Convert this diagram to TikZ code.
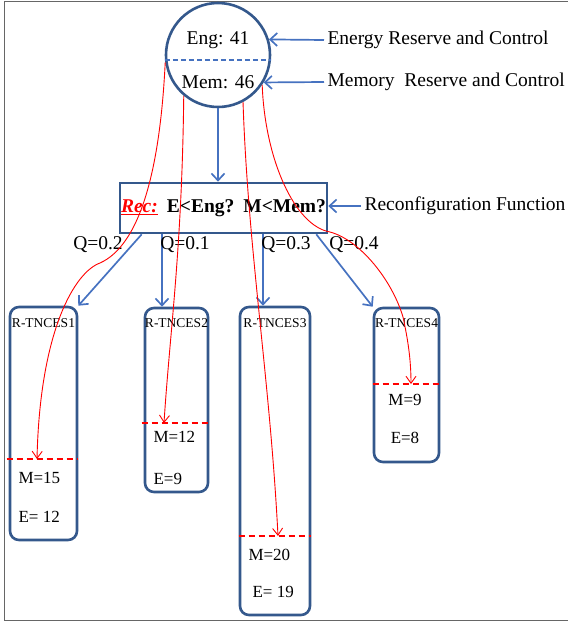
\documentclass[tikz,border=0pt]{standalone}
\usepackage{fontspec}
\setmainfont{Liberation Serif}
\usetikzlibrary{arrows.meta}
\definecolor{shapeblue}{RGB}{52,88,140}
\definecolor{arrowblue}{RGB}{70,114,192}

\begin{document}
\begin{tikzpicture}[x=1pt,y=-1pt]

%
% Styles
%
\tikzstyle{bigfont} = [font=\fontsize{19.5}{22}\selectfont]
\tikzstyle{valfont} = [font=\fontsize{17}{20}\selectfont]
\tikzstyle{tagfont} = [font=\fontsize{13.5}{15}\selectfont]
\tikzstyle{reserve} = [circle,draw=shapeblue,line width=2.6pt,minimum size=104pt,inner sep=0pt]
\tikzstyle{recbox} = [rectangle,draw=shapeblue,line width=2.6pt,minimum width=207pt,minimum height=50pt,inner sep=0pt]
\tikzstyle{tnces} = [rectangle,rounded corners=9pt,draw=shapeblue,line width=2.6pt,inner sep=0pt]
\tikzstyle{arr} = [draw=arrowblue,line width=1.7pt,-{Straight Barb[length=7pt,width=13pt]}]
\tikzstyle{redarr} = [draw=red,line width=0.9pt,-{Straight Barb[length=7pt,width=10pt]}]
\tikzstyle{reddash} = [draw=red,line width=2pt,dash pattern=on 6pt off 4pt]

\useasboundingbox (0,0) rectangle (568,625);
\draw[gray!80!black,line width=1pt] (568,1) -- (4,1) -- (4,620) -- (568,620);

% reserve circle
\node[reserve] (mem) at (218,55) {};
\node[bigfont] (eng) at (218,40) {Eng: 41};
\node[bigfont] (memval) at (218,82) {Mem: 46};
\draw[draw=arrowblue,line width=1.7pt,dash pattern=on 5pt off 3pt] (mem.185) -- (mem.-5);

\node[bigfont,anchor=west] (engnote) at (324,40) {Energy Reserve and Control};
\node[bigfont,anchor=west] (memnote) at (324,82) {Memory\ \ Reserve and Control};
\draw[arr] (engnote.west) -- (mem.17);
\draw[arr] (memnote.west) -- (mem.-31);

% reconfiguration function
\node[recbox,bigfont] (rec) at (223.5,208) {\textcolor{red}{\underline{\textbf{\textit{Rec:}}}}\hspace{9pt}\textbf{E<Eng?}\hspace{9pt}\textbf{M<Mem?}};
\draw[arr] (mem.south) -- (mem.south |- rec.north);
\node[bigfont,anchor=west] (recnote) at (361,206) {Reconfiguration Function};
\draw[arr] (recnote.west) -- (rec.east |- recnote.west);

% R-TNCES boxes
\node[tnces,minimum width=67pt,minimum height=233pt] (b1) at (43.5,423.5) {};
\node[tnces,minimum width=63pt,minimum height=184pt] (b2) at (176.5,400) {};
\node[tnces,minimum width=70pt,minimum height=308pt] (b3) at (275,461) {};
\node[tnces,minimum width=65pt,minimum height=154pt] (b4) at (406.5,385) {};

\node[tagfont] (t1) at (43.5,323) {R-TNCES1};
\node[tagfont] (t2) at (176.5,323) {R-TNCES2};
\node[tagfont] (t3) at (275,323) {R-TNCES3};
\node[tagfont] (t4) at (406.5,323) {R-TNCES4};

\coordinate (d1) at (37,459);
\coordinate (d2) at (164,423);
\coordinate (d3) at (278,536);
\coordinate (d4) at (411,384);
\draw[reddash] ([xshift=-2pt]b1.west |- d1) -- (b1.east |- d1);
\draw[reddash] ([xshift=-2pt]b2.west |- d2) -- (b2.east |- d2);
\draw[reddash] (b3.west |- d3) -- (b3.east |- d3);
\draw[reddash] (b4.west |- d4) -- (b4.east |- d4);

\node[valfont,anchor=west] (m1) at (15,478) {M=15};
\node[valfont,anchor=west] (e1) at (15,517) {E= 12};
\node[valfont,anchor=west] (m2) at (150,437) {M=12};
\node[valfont,anchor=west] (e2) at (150,479) {E=9};
\node[valfont,anchor=west] (m3) at (245,555) {M=20};
\node[valfont,anchor=west] (e3) at (249,592) {E= 19};
\node[valfont] (m4) at (405,400) {M=9};
\node[valfont] (e4) at (405,438) {E=8};

% probabilities
\coordinate (q1) at ([xshift=-14.5pt]b2.north);
\coordinate (q3) at ([xshift=-12pt]b3.north);
\draw[arr] ([xshift=23pt]rec.south west) -- (b1.north east);
\draw[arr] (rec.south -| q1) -- (q1);
\draw[arr] (rec.south -| q3) -- (q3);
\draw[arr] ([xshift=-12pt]rec.south east) -- (b4.north west);
\node[bigfont] (p1) at (98,245) {Q=0.2};
\node[bigfont] (p2) at (185,245) {Q=0.1};
\node[bigfont] (p3) at (286,245) {Q=0.3};
\node[bigfont] (p4) at (354,245) {Q=0.4};

% reserve sharing
\draw[redarr] (mem.188) .. controls (160,170) and (140,245) .. (100,263) .. controls (75,272) and (40,330) .. (d1);
\draw[redarr] (mem.-130) .. controls (182,250) and (170,330) .. (d2);
\draw[redarr] (mem.-62) .. controls (248,250) and (270,380) .. (d3);
\draw[redarr] (mem.-34) .. controls (265,160) and (295,226) .. (330,232) .. controls (360,240) and (392,280) .. (403,317) .. controls (408,340) and (411,360) .. (d4);

\end{tikzpicture}
\end{document}
